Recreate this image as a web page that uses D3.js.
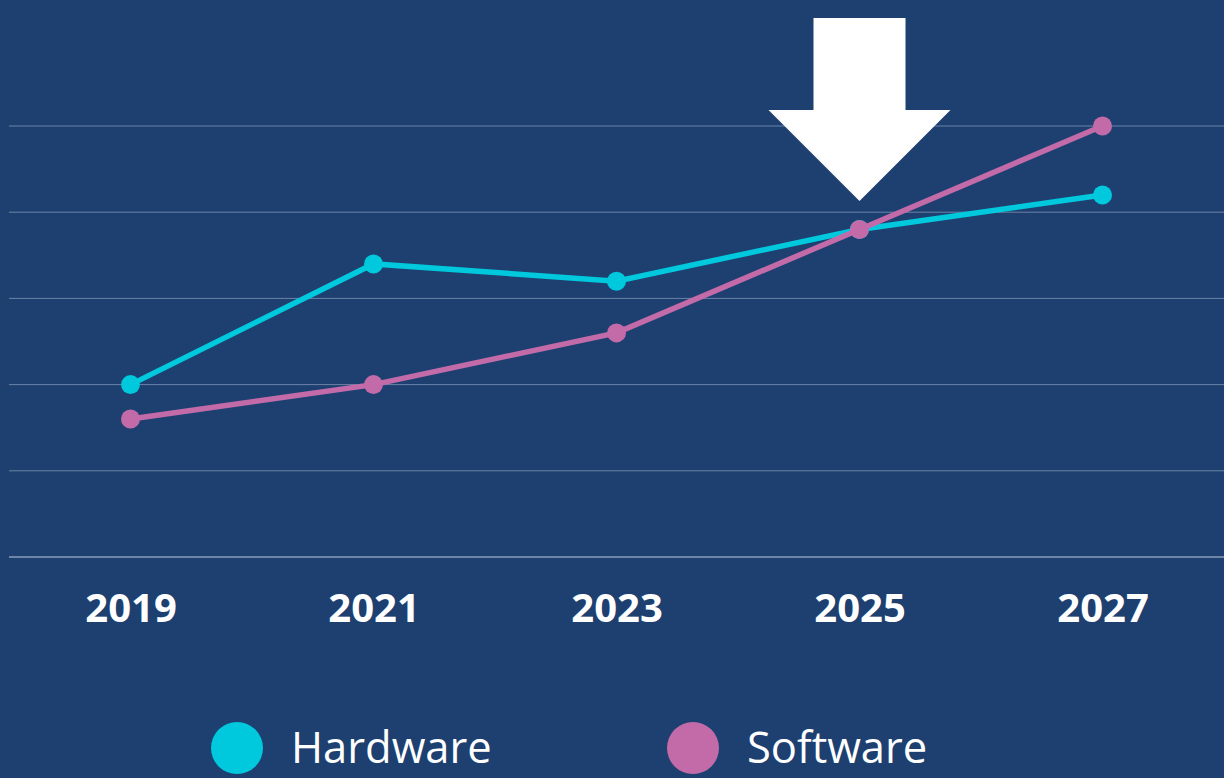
<!DOCTYPE html>
<html>
<head>
<meta charset="utf-8">
<script src="https://cdn.jsdelivr.net/npm/d3@7"></script>
<style>
  html, body { margin: 0; padding: 0; background: #1d4071; }
  svg { display: block; }
</style>
</head>
<body>
<div id="wrapper"></div>
<script>
const years = ["2019", "2021", "2023", "2025", "2027"];
const hardware = [2.0, 3.4, 3.2, 3.8, 4.2];
const software = [1.6, 2.0, 2.6, 3.8, 5.0];
const gridTicks = [0, 1, 2, 3, 4, 5];
const seriesNames = ["Hardware", "Software"];
const seriesColors = ["#00c9dd", "#c36ba9"];

const width = 1224, height = 778;

const svg = d3.select("#wrapper")
  .append("svg")
  .attr("width", width)
  .attr("height", height);

svg.append("rect")
  .attr("width", width)
  .attr("height", height)
  .attr("fill", "#1d4071");

const x = d3.scalePoint()
  .domain(years)
  .range([9, 1224])
  .padding(0.5);

const y = d3.scaleLinear()
  .domain([0, 5])
  .range([557, 126]);

// grid lines
svg.selectAll("line.grid")
  .data(gridTicks)
  .enter()
  .append("line")
  .attr("class", "grid")
  .attr("x1", 9)
  .attr("x2", width)
  .attr("y1", d => y(d))
  .attr("y2", d => y(d))
  .attr("stroke", d => d === 0 ? "#8a9dbb" : "#6c82a6")
  .attr("stroke-width", d => d === 0 ? 1.5 : 1);

// year labels
const xAxis = svg.append("g")
  .attr("transform", `translate(0,${y(0)})`)
  .call(d3.axisBottom(x).tickSize(0).tickPadding(37));
xAxis.select(".domain").remove();
xAxis.selectAll("text")
  .attr("fill", "#ffffff")
  .style("font-family", "'Open Sans', sans-serif")
  .style("font-weight", "bold")
  .style("font-size", "40px");

const series = [
  { name: seriesNames[0], color: seriesColors[0], values: hardware },
  { name: seriesNames[1], color: seriesColors[1], values: software }
];

const line = d3.line()
  .x((d, i) => x(years[i]))
  .y(d => y(d));

series.forEach(s => {
  svg.append("path")
    .datum(s.values)
    .attr("fill", "none")
    .attr("stroke", s.color)
    .attr("stroke-width", 5.5)
    .attr("d", line);

  svg.selectAll(null)
    .data(s.values)
    .enter()
    .append("circle")
    .attr("cx", (d, i) => x(years[i]))
    .attr("cy", d => y(d))
    .attr("r", 9.5)
    .attr("fill", s.color);
});

// arrow pointing at the 2025 crossing
const ax = x("2025");
const tipY = 201;
const arrow = d3.path();
arrow.moveTo(ax - 46, 18);
arrow.lineTo(ax + 46, 18);
arrow.lineTo(ax + 46, 110);
arrow.lineTo(ax + 91, 110);
arrow.lineTo(ax, tipY);
arrow.lineTo(ax - 91, 110);
arrow.lineTo(ax - 46, 110);
arrow.closePath();
svg.append("path")
  .attr("d", arrow.toString())
  .attr("fill", "#ffffff");

// legend
const legend = svg.selectAll("g.legend")
  .data(series)
  .enter()
  .append("g")
  .attr("class", "legend")
  .attr("transform", (d, i) => `translate(${237 + i * 456},748)`);

legend.append("circle")
  .attr("r", 26)
  .attr("fill", d => d.color);

legend.append("text")
  .attr("x", 54)
  .attr("y", 15)
  .attr("fill", "#ffffff")
  .style("font-family", "'Open Sans', sans-serif")
  .style("font-size", "43.5px")
  .text(d => d.name);
</script>
</body>
</html>
